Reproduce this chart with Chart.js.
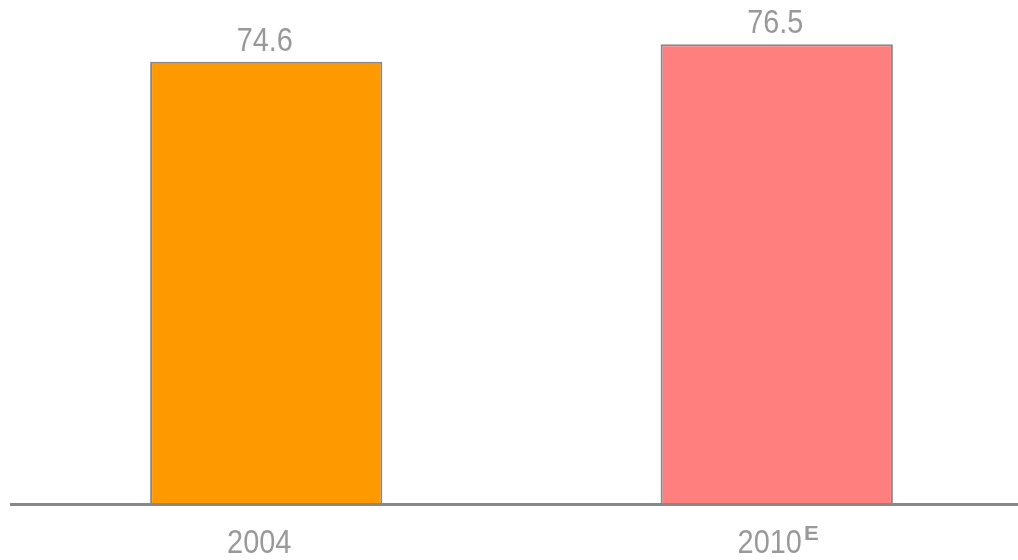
<!DOCTYPE html>
<html>
<head>
<meta charset="utf-8">
<script src="https://cdn.jsdelivr.net/npm/chart.js@4.4.0/dist/chart.umd.min.js"></script>
<style>
  html, body { margin: 0; padding: 0; background: #fff; overflow: hidden; }
  #wrap { width: 1018px; height: 560px; overflow: hidden; position: relative; }
  canvas { display: block; }
</style>
</head>
<body>
<div id="wrap"><canvas id="c" width="1034" height="560"></canvas></div>
<script>
const categories = ['2004', '2010'];
const superscripts = ['', 'E'];
const values = [74.6, 76.5];
const valueLabels = ['74.6', '76.5'];
const barColors = ['#FF9900', '#FF7F7F'];

const labelFont = '34px "Liberation Sans", Arial, sans-serif';
const supFont = 'bold 21px "Liberation Sans", Arial, sans-serif';
const textColor = '#999999';
const squeeze = 0.85;

function narrowText(ctx, text, cx, y, font) {
  ctx.save();
  ctx.font = font;
  ctx.textAlign = 'center';
  ctx.translate(cx, y);
  ctx.scale(squeeze, 1);
  ctx.fillText(text, 0, 0);
  ctx.restore();
}

const overlay = {
  id: 'overlay',
  afterDatasetsDraw(chart) {
    const ctx = chart.ctx;
    const area = chart.chartArea;
    const xs = chart.scales.x;
    const meta = chart.getDatasetMeta(0);
    ctx.save();
    ctx.strokeStyle = '#888888';
    ctx.lineWidth = 3;
    ctx.beginPath();
    ctx.moveTo(10, area.bottom + 0.5);
    ctx.lineTo(chart.width, area.bottom + 0.5);
    ctx.stroke();
    ctx.fillStyle = textColor;
    ctx.textBaseline = 'alphabetic';
    meta.data.forEach((bar, i) => {
      narrowText(ctx, valueLabels[i], bar.x - 1.5, bar.y - 11, labelFont);
    });
    categories.forEach((cat, i) => {
      const x = xs.getPixelForValue(i);
      ctx.font = labelFont;
      const w = ctx.measureText(cat).width * squeeze;
      const cx = x - 7;
      narrowText(ctx, cat, cx, 553, labelFont);
      if (superscripts[i]) {
        ctx.save();
        ctx.font = supFont;
        ctx.textAlign = 'left';
        ctx.translate(cx + w / 2 + 2, 540);
        ctx.scale(1.05, 1);
        ctx.fillText(superscripts[i], 0, 0);
        ctx.restore();
      }
    });
    ctx.restore();
  }
};

new Chart(document.getElementById('c'), {
  type: 'bar',
  data: {
    labels: categories,
    datasets: [{
      data: values,
      backgroundColor: barColors,
      borderColor: '#888888',
      borderWidth: { top: 2, left: 2, right: 2, bottom: 0 },
      borderSkipped: false,
      barPercentage: 0.455,
      categoryPercentage: 1
    }]
  },
  options: {
    responsive: false,
    animation: false,
    devicePixelRatio: 1,
    layout: { padding: { left: 11, right: 2, top: 0, bottom: 56 } },
    plugins: { legend: { display: false }, tooltip: { enabled: false } },
    scales: {
      x: { display: false },
      y: { display: false, min: 26.32, max: 81.34 }
    }
  },
  plugins: [overlay]
});
</script>
</body>
</html>
